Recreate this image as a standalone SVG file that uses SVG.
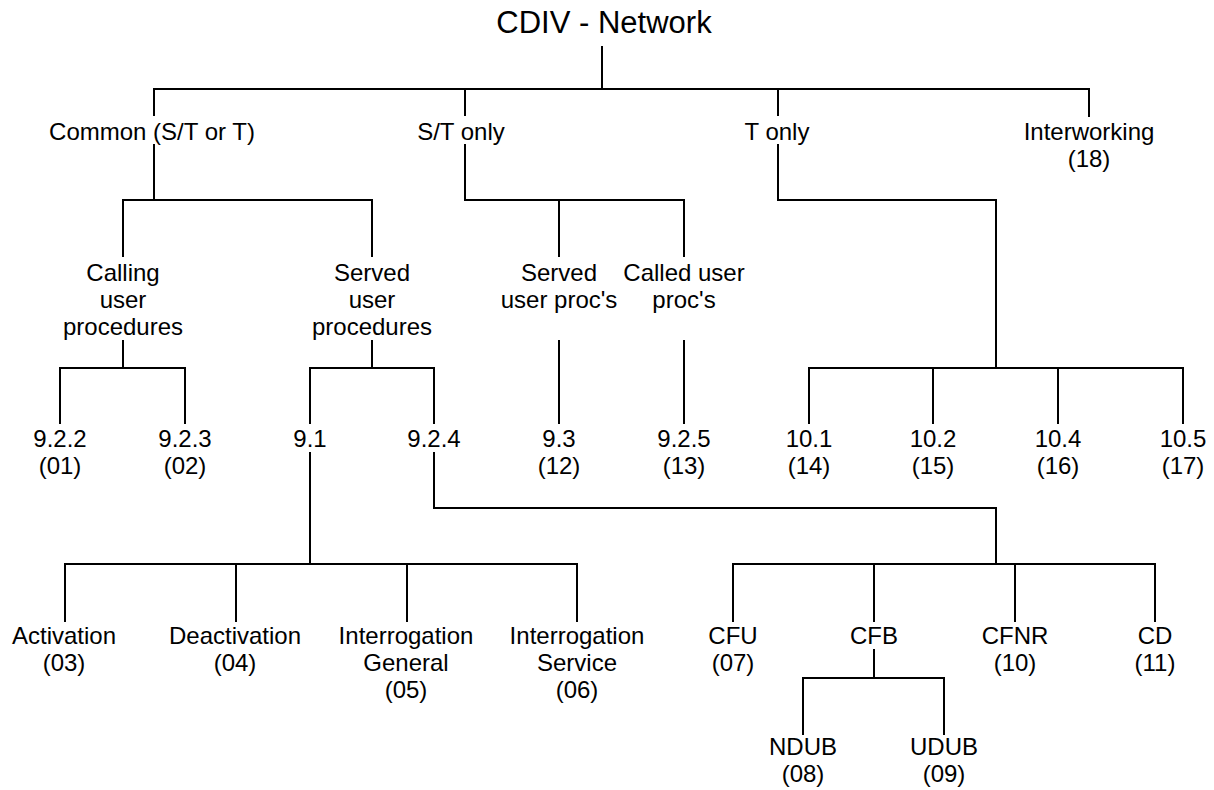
<svg xmlns="http://www.w3.org/2000/svg" width="1214" height="790" viewBox="0 0 1214 790">
<style>
text{font-family:"Liberation Sans",Arial,sans-serif;font-size:24px;fill:#000;text-anchor:middle}
.title{font-size:31px}
#connectors path{fill:none;stroke:#000;stroke-width:2;stroke-linecap:butt}
</style>
<rect width="1214" height="790" fill="#fff"/>
<g id="connectors">
<path d="M602 46V89M154 116V89H1089V117M465 89V116M778 89V116"/>
<path d="M154 144V200M123 257V200H372V257"/>
<path d="M465 144V200H684V257M559 200V257"/>
<path d="M778 144V200H996V368"/>
<path d="M123 340V368M60 424V368H185V424"/>
<path d="M372 340V368M310 424V368H434V424"/>
<path d="M559 340V424M684 340V424"/>
<path d="M809 424V368H1183V424M933 368V424M1058 368V424"/>
<path d="M310 452V564M65 622V564H577V622M236 564V622M407 564V622"/>
<path d="M434 452V508H996V564M733 622V564H1155V622M874 564V622M1015 564V622"/>
<path d="M874 649V678M803 735V678H944V735"/>
</g>
<g id="root"><text class="title" x="604" y="33">CDIV - Network</text></g>
<g id="common"><text x="152" y="140">Common (S/T or T)</text></g>
<g id="st-only"><text x="461" y="140">S/T only</text></g>
<g id="t-only"><text x="777" y="140">T only</text></g>
<g id="interworking"><text x="1089" y="140">Interworking</text><text x="1089" y="167">(18)</text></g>
<g id="calling"><text x="123" y="281">Calling</text><text x="123" y="308">user</text><text x="123" y="335">procedures</text></g>
<g id="served"><text x="372" y="281">Served</text><text x="372" y="308">user</text><text x="372" y="335">procedures</text></g>
<g id="served-st"><text x="559" y="281">Served</text><text x="559" y="308">user proc's</text></g>
<g id="called-st"><text x="684" y="281">Called user</text><text x="684" y="308">proc's</text></g>
<g id="n922"><text x="60" y="447">9.2.2</text><text x="60" y="474">(01)</text></g>
<g id="n923"><text x="185" y="447">9.2.3</text><text x="185" y="474">(02)</text></g>
<g id="n91"><text x="310" y="447">9.1</text></g>
<g id="n924"><text x="434" y="447">9.2.4</text></g>
<g id="n93"><text x="559" y="447">9.3</text><text x="559" y="474">(12)</text></g>
<g id="n925"><text x="684" y="447">9.2.5</text><text x="684" y="474">(13)</text></g>
<g id="n101"><text x="809" y="447">10.1</text><text x="809" y="474">(14)</text></g>
<g id="n102"><text x="933" y="447">10.2</text><text x="933" y="474">(15)</text></g>
<g id="n104"><text x="1058" y="447">10.4</text><text x="1058" y="474">(16)</text></g>
<g id="n105"><text x="1183" y="447">10.5</text><text x="1183" y="474">(17)</text></g>
<g id="activation"><text x="64" y="644">Activation</text><text x="64" y="671">(03)</text></g>
<g id="deactivation"><text x="235" y="644">Deactivation</text><text x="235" y="671">(04)</text></g>
<g id="interr-general"><text x="406" y="644">Interrogation</text><text x="406" y="671">General</text><text x="406" y="698">(05)</text></g>
<g id="interr-service"><text x="577" y="644">Interrogation</text><text x="577" y="671">Service</text><text x="577" y="698">(06)</text></g>
<g id="cfu"><text x="733" y="644">CFU</text><text x="733" y="671">(07)</text></g>
<g id="cfb"><text x="874" y="644">CFB</text></g>
<g id="cfnr"><text x="1015" y="644">CFNR</text><text x="1015" y="671">(10)</text></g>
<g id="cd"><text x="1155" y="644">CD</text><text x="1155" y="671">(11)</text></g>
<g id="ndub"><text x="803" y="755">NDUB</text><text x="803" y="782">(08)</text></g>
<g id="udub"><text x="944" y="755">UDUB</text><text x="944" y="782">(09)</text></g>
</svg>
